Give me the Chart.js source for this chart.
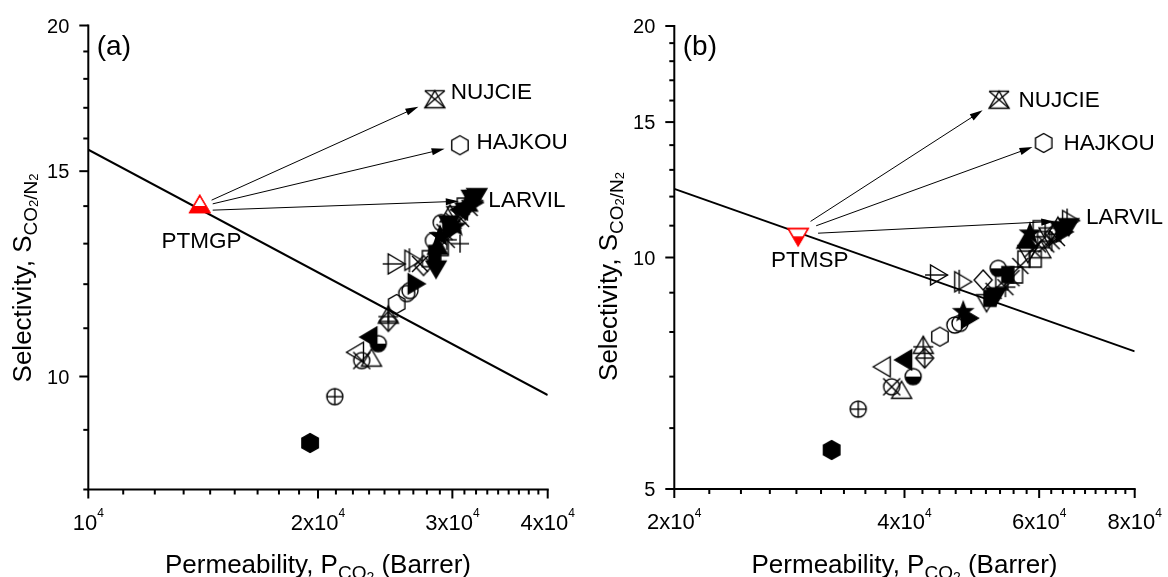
<!DOCTYPE html>
<html><head><meta charset="utf-8">
<script src="https://cdn.jsdelivr.net/npm/chart.js@4.4.1/dist/chart.umd.min.js"></script>
<style>
html,body{margin:0;padding:0;background:#fff;overflow:hidden}
#wrap{position:relative;width:1168px;height:577px;background:#fff}
canvas{position:absolute;top:0}
#ca{left:0}#cb{left:584px}
</style></head><body>
<div id="wrap"><canvas id="ca" width="584" height="577"></canvas><canvas id="cb" width="584" height="577"></canvas></div>
<script>
const FONT = '"Liberation Sans", Arial, Helvetica, sans-serif';

// ================= Panel (a) data =================
const aKeyNames  = ['PTMGP', 'NUJCIE', 'HAJKOU', 'LARVIL'];
const aKeyPerm   = [14000, 28450, 30690, 32060];
const aKeySel    = [14.06, 17.29, 15.79, 14.15];
const aKeyMarker = ['ptmgp', 'nujcie', 'hexagon', 'triRightBar'];

const aPerm = [19530, 21040, 22360, 22820, 23500, 23280, 23990, 24730, 24730, 25360,
               26140, 26400, 26940, 25360, 26670, 27210, 27900, 27500, 28560, 28330,
               28450, 28700, 28900, 29100, 29300, 29500, 29700, 29900, 30100, 30300,
               30400, 30600, 30800, 31000, 31200, 31400, 31600, 31800, 32100, 32300,
               29800, 30700, 29000];
const aSel  = [8.77, 9.61, 10.49, 10.32, 10.38, 10.81, 10.67, 11.30, 11.15, 11.54,
               11.78, 11.85, 12.01, 12.49, 12.58, 12.49, 12.62, 12.45, 12.35, 13.08,
               12.75, 12.95, 13.20, 12.90, 13.30, 13.10, 13.50, 13.35, 13.60, 13.45,
               13.75, 13.90, 13.65, 14.00, 13.85, 14.10, 13.95, 14.20, 14.10, 14.25,
               13.80, 13.00, 13.55];
const aMarker = ['hexFilled','circlePlus','triLeft','circleX','triUp','triLeftFilled','halfCircle','triCross','diamondCross','hexagon',
                 'circle','circle','triRightFilled','triRightCross','triRightBar','crossRot','rect','diamond','triDownFilled','circle',
                 'rectFilled','triUpFilled','starFilled','rect','crossRot','asterisk','triDownFilled','triRightFilled','crossRot','starFilled',
                 'triDown','triLeftFilled','crossRot','rect','triDownFilled','triUpFilled','crossRot','triDownFilled','triRightFilled','triDownFilled',
                 'triUp','cross','circle'];
const aBoundPerm = [10000, 40000];
const aBoundSel  = [15.65, 9.64];
const aXMajor    = [10000, 20000, 30000, 40000];
const aXMantissa = ['', '2x', '3x', '4x'];
const aYMajor    = [10, 15, 20];

// ================= Panel (b) data =================
const bKeyNames  = ['PTMSP', 'NUJCIE', 'HAJKOU', 'LARVIL'];
const bKeyPerm   = [29040, 53180, 60820, 66060];
const bKeySel    = [10.63, 16.04, 14.09, 11.17];
const bKeyMarker = ['ptmsp', 'nujcie', 'hexagon', 'triRightBar'];

const bPerm = [32120, 34800, 38480, 39650, 37350, 39840, 41060, 42330, 42500, 44500,
               46550, 47270, 48720, 47740, 44380, 47740, 50690, 51220, 51730, 52300,
               52700, 53030, 53600, 54200, 54600, 55200, 56050, 56700, 57300, 58360,
               58000, 58800, 59300, 59800, 60300, 60800, 61300, 61800, 62300, 62800,
               63300, 64000, 64800, 65600, 63500, 57800, 60000];
const bSel  = [5.62, 6.35, 6.79, 6.73, 7.21, 7.36, 7.00, 7.70, 7.40, 7.89,
               8.17, 8.21, 8.34, 8.50, 9.49, 9.30, 9.35, 8.72, 8.85, 9.05,
               8.90, 9.68, 9.30, 9.15, 9.50, 9.40, 9.49, 9.75, 9.95, 10.75,
               10.10, 10.25, 9.95, 10.40, 10.25, 10.55, 10.40, 10.65, 10.50, 10.75,
               10.60, 10.85, 10.80, 10.95, 11.00, 10.55, 10.90];
const bMarker = ['hexFilled','circlePlus','circleX','triUp','triLeft','triLeftFilled','halfCircle','triCross','diamondCross','hexagon',
                 'circle','circle','triRightFilled','starFilled','triRightCross','triRightBar','diamond','triDown','rectFilled','crossRot',
                 'triDownFilled','halfCircle','rect','asterisk','rectFilled','crossRot','rect','crossRot','rect','starFilled',
                 'triDown','crossRot','rect','crossRot','triUp','rect','crossRot','triDown','asterisk','diamond',
                 'crossRot','triDownFilled','triRightFilled','triDownFilled','triUp','triUpFilled','rect'];
const bBoundPerm = [20000, 80000];
const bBoundSel  = [12.28, 7.55];
const bXMajor    = [20000, 40000, 60000, 80000];
const bXMantissa = ['2x', '4x', '6x', '8x'];
const bYMajor    = [5, 10, 15, 20];

// ================= marker drawing =================
function makeMarker(kind) {
  const S = 32, c = document.createElement('canvas');
  c.width = S; c.height = S;
  const g = c.getContext('2d');
  g.translate(S / 2, S / 2);
  g.lineWidth = 1.4; g.strokeStyle = '#000'; g.fillStyle = '#000';
  const poly = (pts, fill) => { g.beginPath(); pts.forEach((p, i) => i ? g.lineTo(p[0], p[1]) : g.moveTo(p[0], p[1])); g.closePath(); if (fill) g.fill(); g.stroke(); };
  const seg = (x1, y1, x2, y2) => { g.beginPath(); g.moveTo(x1, y1); g.lineTo(x2, y2); g.stroke(); };
  const circ = (r, fill) => { g.beginPath(); g.arc(0, 0, r, 0, Math.PI * 2); if (fill) g.fill(); g.stroke(); };
  const h = 8.5, w = 10;
  const up = [[0, -h], [w, h], [-w, h]], down = [[0, h], [w, -h], [-w, -h]];
  const left = [[-h, 0], [h, -w], [h, w]], right = [[h, 0], [-h, -w], [-h, w]];
  const hex = [0, 1, 2, 3, 4, 5].map(i => { const a = -Math.PI / 2 + i * Math.PI / 3; return [9.5 * Math.cos(a), 9.5 * Math.sin(a)]; });
  const dia = [[0, -10], [9, 0], [0, 10], [-9, 0]];
  const star = []; for (let i = 0; i < 10; i++) { const a = -Math.PI / 2 + i * Math.PI / 5, r = i % 2 ? 4.2 : 10; star.push([r * Math.cos(a), r * Math.sin(a)]); }
  switch (kind) {
    case 'triUp': poly(up); break;
    case 'triUpFilled': poly(up, true); break;
    case 'triDown': poly(down); break;
    case 'triDownFilled': poly(down, true); break;
    case 'triLeft': poly(left); break;
    case 'triLeftFilled': poly(left, true); break;
    case 'triRight': poly(right); break;
    case 'triRightFilled': poly(right, true); break;
    case 'triRightCross': poly(right); seg(-14, 0, h, 0); break;
    case 'triRightBar': poly(right); seg(-4, -12, -4, 12); break;
    case 'triCross': poly(up); seg(0, -h, 0, h); seg(-w, 2, w, 2); break;
    case 'hexagon': poly(hex); break;
    case 'hexFilled': poly(hex, true); break;
    case 'circle': circ(8); break;
    case 'circlePlus': circ(8); seg(-8, 0, 8, 0); seg(0, -8, 0, 8); break;
    case 'circleX': circ(8); seg(-8.5, -8.5, 8.5, 8.5); seg(8.5, -8.5, -8.5, 8.5); break;
    case 'halfCircle': g.beginPath(); g.arc(0, 0, 8, 0, Math.PI); g.closePath(); g.fill(); circ(8); break;
    case 'diamond': poly(dia); break;
    case 'diamondCross': poly(dia); seg(-9, 0, 9, 0); seg(0, -10, 0, 10); break;
    case 'rect': poly([[-6, -8], [6, -8], [6, 8], [-6, 8]]); break;
    case 'rectFilled': poly([[-6, -8], [6, -8], [6, 8], [-6, 8]], true); break;
    case 'starFilled': poly(star, true); break;
    case 'crossRot': seg(-8, -8, 8, 8); seg(8, -8, -8, 8); break;
    case 'cross': seg(-9, 0, 9, 0); seg(0, -9, 0, 9); break;
    case 'asterisk': seg(-8, -8, 8, 8); seg(8, -8, -8, 8); seg(-10, 0, 10, 0); seg(0, -10, 0, 10); break;
    case 'nujcie':
      poly(up); seg(-w, -h, w, -h); seg(-w, -h, w, h); seg(w, -h, -w, h); break;
    case 'ptmgp': {
      g.strokeStyle = g.fillStyle = '#ff0000';
      g.save(); g.fillStyle = '#fff'; poly(up, true); g.restore();
      const yc = 2, hw = w * (yc + h) / (2 * h);
      g.beginPath(); g.moveTo(-hw, yc); g.lineTo(hw, yc); g.lineTo(w, h); g.lineTo(-w, h); g.closePath(); g.fill();
      poly(up); break; }
    case 'ptmsp': {
      g.strokeStyle = g.fillStyle = '#ff0000';
      g.save(); g.fillStyle = '#fff'; poly(down, true); g.restore();
      const yc = -0.8, hw = w * (h - yc) / (2 * h);
      g.beginPath(); g.moveTo(-hw, yc); g.lineTo(hw, yc); g.lineTo(0, h); g.closePath(); g.fill();
      poly(down); break; }
  }
  return c;
}
const markerCache = {};
const mk = k => markerCache[k] || (markerCache[k] = makeMarker(k));

// ================= rich text helpers =================
function richWidth(ctx, segs) { let w = 0; for (const s of segs) { ctx.font = s.size + 'px ' + FONT; w += ctx.measureText(s.t).width; } return w; }
function drawRich(ctx, segs, x, y) { let cx = x; for (const s of segs) { ctx.font = s.size + 'px ' + FONT; ctx.fillText(s.t, cx, y + (s.dy || 0)); cx += ctx.measureText(s.t).width; } }

const xTitle = [{t: 'Permeability, P', size: 26}, {t: 'CO', size: 19, dy: 6}, {t: '2', size: 14, dy: 9}, {t: ' (Barrer)', size: 26}];
const yTitle = [{t: 'Selectivity, S', size: 26}, {t: 'CO', size: 19, dy: 6}, {t: '2', size: 13, dy: 7}, {t: '/N', size: 19, dy: 6}, {t: '2', size: 13, dy: 7}];

function makeDecor(P) {
  return {
    id: 'decor',
    afterDatasetsDraw(chart) {
      const {ctx, scales: {x, y}} = chart;
      ctx.save();
      const sx = x.getPixelForValue(P.keyPerm[0]), sy = y.getPixelForValue(P.keySel[0]);
      ctx.strokeStyle = '#000'; ctx.fillStyle = '#000'; ctx.lineWidth = 1;
      for (let i = 1; i < P.keyPerm.length; i++) {
        const tx = x.getPixelForValue(P.keyPerm[i]), ty = y.getPixelForValue(P.keySel[i]);
        const x0 = sx + P.arrowStart[i - 1][0], y0 = sy + P.arrowStart[i - 1][1];
        const dx = tx - x0, dy = ty - y0, L = Math.hypot(dx, dy), ux = dx / L, uy = dy / L;
        const x1 = tx - ux * P.arrowGap[i - 1], y1 = ty - uy * P.arrowGap[i - 1];
        const hl = 13, hw = 3.6;
        ctx.beginPath(); ctx.moveTo(x0, y0); ctx.lineTo(x1 - ux * hl * 0.8, y1 - uy * hl * 0.8); ctx.stroke();
        ctx.beginPath(); ctx.moveTo(x1, y1);
        ctx.lineTo(x1 - ux * hl - uy * hw, y1 - uy * hl + ux * hw);
        ctx.lineTo(x1 - ux * hl + uy * hw, y1 - uy * hl - ux * hw);
        ctx.closePath(); ctx.fill();
      }
      ctx.font = '22.5px ' + FONT; ctx.textBaseline = 'alphabetic';
      for (let i = 0; i < P.keyNames.length; i++) {
        const px = x.getPixelForValue(P.keyPerm[i]), py = y.getPixelForValue(P.keySel[i]);
        ctx.textAlign = i === 0 ? 'center' : 'left';
        ctx.fillText(P.keyNames[i], px + P.labelOff[i][0], py + P.labelOff[i][1] + 8);
      }
      ctx.restore();
    },
    afterDraw(chart) {
      const {ctx, chartArea: ca, scales: {x, y}} = chart;
      ctx.save();
      ctx.strokeStyle = '#000'; ctx.fillStyle = '#000'; ctx.lineWidth = 2;
      ctx.lineCap = 'square';
      ctx.beginPath(); ctx.moveTo(ca.left, ca.top); ctx.lineTo(ca.left, ca.bottom); ctx.lineTo(ca.right, ca.bottom); ctx.stroke();
      ctx.lineCap = 'butt';
      const xt = (v, len) => { const p = x.getPixelForValue(v); ctx.beginPath(); ctx.moveTo(p, ca.bottom); ctx.lineTo(p, ca.bottom + len); ctx.stroke(); };
      const yt = (v, len) => { const p = y.getPixelForValue(v); ctx.beginPath(); ctx.moveTo(ca.left, p); ctx.lineTo(ca.left - len, p); ctx.stroke(); };
      P.xMajor.forEach((v, i) => {
        xt(v, 9);
        if (i < P.xMajor.length - 1) { const st = (P.xMajor[i + 1] - v) / 9; for (let k = 1; k < 9; k++) xt(v + k * st, 5); }
      });
      for (let v = Math.ceil(P.yMin); v <= P.yMax; v++) yt(v, P.yMajor.includes(v) ? 9 : 5);
      ctx.textAlign = 'left'; ctx.textBaseline = 'alphabetic';
      P.xMajor.forEach((v, i) => {
        const segs = [{t: P.xMantissa[i] + '10', size: 22}, {t: '4', size: 12, dy: -12.5}];
        const w = richWidth(ctx, segs);
        drawRich(ctx, segs, x.getPixelForValue(v) - w / 2, ca.bottom + 40);
      });
      ctx.font = '20px ' + FONT; ctx.textAlign = 'right';
      P.yMajor.forEach(v => ctx.fillText(String(v), ca.left - 19, y.getPixelForValue(v) + 7.2));
      ctx.textAlign = 'left';
      const wx = richWidth(ctx, xTitle);
      drawRich(ctx, xTitle, (ca.left + ca.right) / 2 - wx / 2, 573);
      const wy = richWidth(ctx, yTitle);
      ctx.save(); ctx.translate(P.yTitleX, P.yTitleY); ctx.rotate(-Math.PI / 2);
      drawRich(ctx, yTitle, -wy / 2, 0); ctx.restore();
      ctx.font = '28px ' + FONT;
      ctx.fillText(P.panel, ca.left + 8.5, 55);
      ctx.restore();
    }
  };
}

function buildPanel(id, P) {
  new Chart(document.getElementById(id), {
    type: 'scatter',
    data: {
      datasets: [
        {data: P.keyPerm.map((v, i) => ({x: v, y: P.keySel[i]})), pointStyle: c => mk(P.keyMarker[c.dataIndex] || 'circle'), pointRadius: 10, clip: false},
        {data: P.perm.map((v, i) => ({x: v, y: P.sel[i]})), pointStyle: c => mk(P.marker[c.dataIndex] || 'circle'), pointRadius: 10, clip: false},
        {type: 'line', data: P.boundPerm.map((v, i) => ({x: v, y: P.boundSel[i]})), borderColor: '#000', borderWidth: 2, pointRadius: 0, fill: false, showLine: true}
      ]
    },
    options: {
      responsive: false, animation: false, devicePixelRatio: 1, events: [],
      layout: {padding: {top: P.padTop, right: P.padRight, left: 0, bottom: 0}},
      plugins: {legend: {display: false}, tooltip: {enabled: false}},
      scales: {
        x: {type: 'logarithmic', min: P.xMin, max: P.xMax, ticks: {display: false}, grid: {display: false}, border: {display: false}, afterFit: s => { s.height = P.xAxisH; }},
        y: {type: 'logarithmic', min: P.yMin, max: P.yMax, ticks: {display: false}, grid: {display: false}, border: {display: false}, afterFit: s => { s.width = P.yAxisW; }}
      }
    },
    plugins: [makeDecor(P)]
  });
}

buildPanel('ca', {
  keyNames: aKeyNames, keyPerm: aKeyPerm, keySel: aKeySel, keyMarker: aKeyMarker,
  perm: aPerm, sel: aSel, marker: aMarker, boundPerm: aBoundPerm, boundSel: aBoundSel,
  xMajor: aXMajor, xMantissa: aXMantissa, yMajor: aYMajor,
  xMin: 10000, xMax: 40000, yMin: 8, yMax: 20,
  padTop: 25.5, padRight: 36.3, yAxisW: 88.3, xAxisH: 87.5,
  arrowStart: [[11.8, -3.8], [12.9, -0.1], [12.9, 6.2]], arrowGap: [18, 15.7, 15.6],
  labelOff: [[1.8, 36], [16, -8.5], [16.6, -3.9], [14, -1.6]],
  yTitleX: 31.4, yTitleY: 278, panel: '(a)'
});
buildPanel('cb', {
  keyNames: bKeyNames, keyPerm: bKeyPerm, keySel: bKeySel, keyMarker: bKeyMarker,
  perm: bPerm, sel: bSel, marker: bMarker, boundPerm: bBoundPerm, boundSel: bBoundSel,
  xMajor: bXMajor, xMantissa: bXMantissa, yMajor: bYMajor,
  xMin: 20000, xMax: 80000, yMin: 5, yMax: 20,
  padTop: 26, padRight: 33.3, yAxisW: 90.3, xAxisH: 88,
  arrowStart: [[12.4, -15.7], [18, -11.3], [19.9, -3.9]], arrowGap: [19.6, 11.9, 16.9],
  labelOff: [[11.5, 22], [19.5, -0.6], [19.9, -1.1], [14.8, -4.8]],
  yTitleX: 33, yTitleY: 276.5, panel: '(b)'
});
</script></body></html>
